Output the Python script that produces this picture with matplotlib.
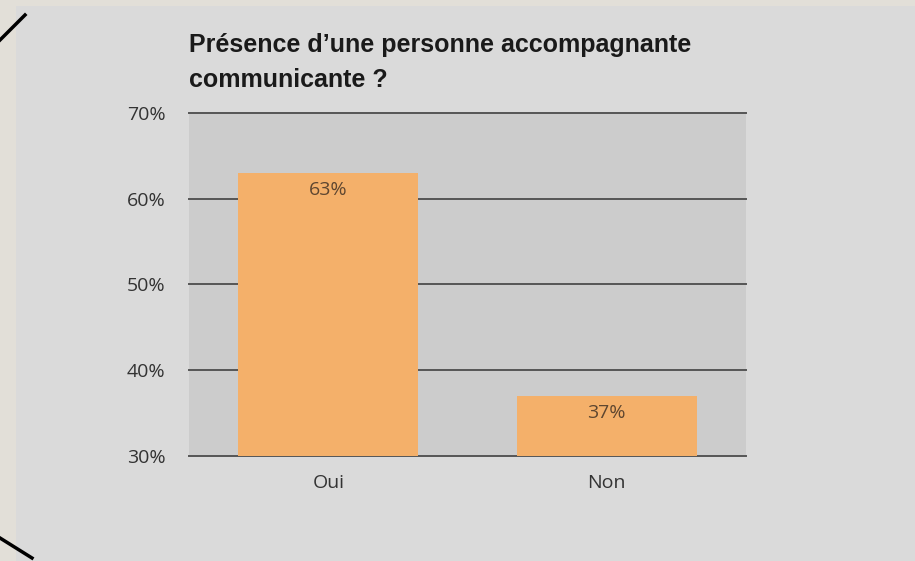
import matplotlib
matplotlib.use('Agg')
import matplotlib.pyplot as plt
from matplotlib.lines import Line2D
from matplotlib.patches import Rectangle

categories = ['Oui', 'Non']
values = [63, 37]
yticks = [30, 40, 50, 60, 70]
title_lines = ['Présence d\u2019une personne accompagnante', 'communicante ?']

W, H = 915, 561
fig = plt.figure(figsize=(W / 100, H / 100), dpi=100)
fig.patch.set_facecolor('#e2dfd8')

# slide panel
fig.add_artist(Rectangle((16 / W, 0), 1, 1 - 6 / H, transform=fig.transFigure,
                         facecolor='#dadada', edgecolor='none', zorder=0))
# corner strokes
fig.add_artist(Line2D([0, 25 / W], [1 - 40 / H, 1 - 15 / H], transform=fig.transFigure,
                      color='black', lw=2.5))
fig.add_artist(Line2D([0, 32 / W], [1 - 538 / H, 1 - 558 / H], transform=fig.transFigure,
                      color='black', lw=2.5))

ax = fig.add_axes([189 / W, 1 - 456 / H, (746 - 189) / W, (456 - 113) / H])
ax.set_facecolor('#cccccc')
x = range(len(categories))
ax.bar(x, values, width=0.647, bottom=0, color='#f4b06a', zorder=3)
ax.set_xlim(-0.5, 1.5)
ax.set_ylim(30, 70)
ax.set_yticks(yticks)
ax.set_yticklabels([f'{t}%' for t in yticks])
ax.set_xticks(list(x))
ax.set_xticklabels(categories)
for t in yticks:
    ax.axhline(t, color='#555555', lw=1.4, zorder=2, clip_on=False)
for s in ax.spines.values():
    s.set_visible(False)
ax.tick_params(axis='both', length=0, labelsize=14, colors='#333333')
ax.tick_params(axis='y', pad=17)
ax.tick_params(axis='x', pad=13)
for tl in ax.get_xticklabels() + ax.get_yticklabels():
    tl.set_fontfamily('Open Sans')

for xi, v in zip(x, values):
    ax.annotate(f'{v}%', (xi, v), xytext=(0, -6), textcoords='offset points',
                ha='center', va='top', fontsize=14, color='#5e4630',
                family='Open Sans', zorder=4)

fig.text(189 / W, 1 - 45 / H, title_lines[0], ha='left', va='center',
         fontsize=18, fontweight='bold', family='Liberation Sans', color='#1a1a1a')
fig.text(189 / W, 1 - 80 / H, title_lines[1], ha='left', va='center',
         fontsize=18, fontweight='bold', family='Liberation Sans', color='#1a1a1a')

fig.savefig('out.png', dpi=100, facecolor=fig.get_facecolor())
